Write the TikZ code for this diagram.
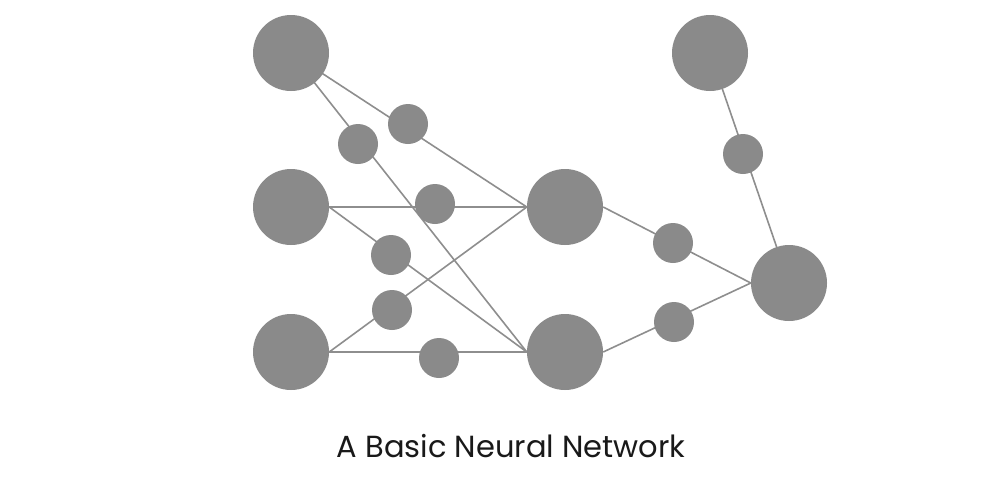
\documentclass[tikz,border=0pt]{standalone}
\usepackage{fontspec}
\setmainfont{Poppins}
\usetikzlibrary{backgrounds}
\definecolor{nodegray}{HTML}{8A8A8A}
\definecolor{linegray}{HTML}{8E8E8E}
\tikzset{
  big/.style={circle, fill=nodegray, minimum size=76pt, inner sep=0pt},
  small/.style={circle, fill=nodegray, minimum size=40pt, inner sep=0pt},
  link/.style={draw=linegray, line width=1.6pt},
}
\begin{document}
\begin{tikzpicture}[x=1pt,y=-1pt]
\useasboundingbox (0,0) rectangle (1000,477);
% big nodes
\node[big] (i1) at (291,53) {};
\node[big] (i2) at (291,207) {};
\node[big] (i3) at (291,352) {};
\node[big] (h1) at (565,207) {};
\node[big] (h2) at (565,352) {};
\node[big] (t)  at (710,53) {};
\node[big] (o)  at (789,283) {};
% small nodes
\node[small] (s1) at (408,124) {};
\node[small] (s2) at (358,144) {};
\node[small] (s3) at (435,204) {};
\node[small] (s4) at (391,255) {};
\node[small] (s5) at (392,310) {};
\node[small] (s6) at (439,358) {};
\node[small] (s7) at (673,243) {};
\node[small] (s8) at (674,322) {};
\node[small] (s9) at (743,154) {};
% connectors
\begin{pgfonlayer}{background}
\fill[white] (0,0) rectangle (1000,477);
\draw[link] (i1.center) -- (h1.west);
\draw[link] (i1.center) -- (h2.west);
\draw[link] (i2.east) -- (h1.west);
\draw[link] (i2.east) -- (h2.west);
\draw[link] (i3.east) -- (h1.west);
\draw[link] (i3.east) -- (h2.west);
\draw[link] (h1.east) -- (o.west);
\draw[link] (h2.east) -- (o.west);
\draw[link] (t.center) -- (o.center);
\end{pgfonlayer}
\node[font=\fontsize{30.5}{36}\selectfont, text=black!90] (cap) at (511,446) {A Basic Neural Network};
\end{tikzpicture}
\end{document}
